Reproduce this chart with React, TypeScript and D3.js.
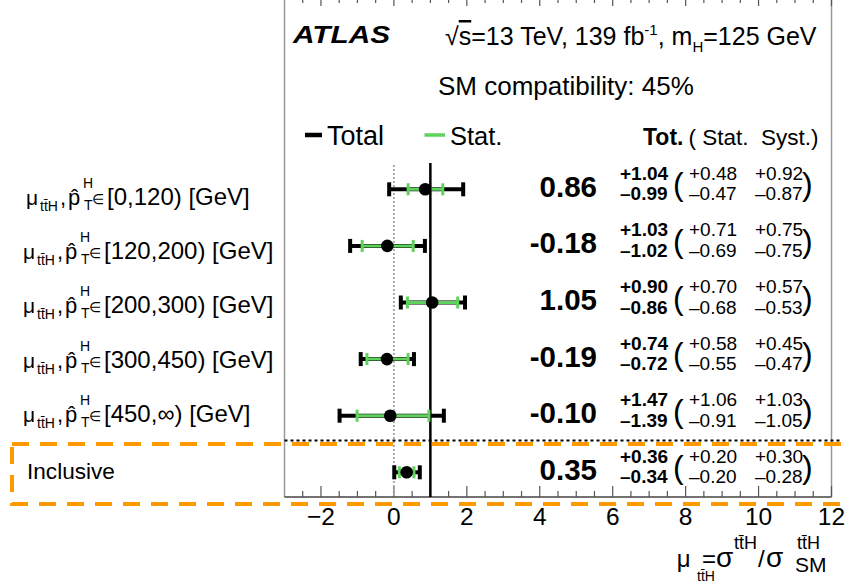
import React from "react";
import * as d3 from "d3";

const categories = ["[0,120) [GeV]", "[120,200) [GeV]", "[200,300) [GeV]", "[300,450) [GeV]", "[450,∞) [GeV]", "Inclusive"];
const mu = [0.86, -0.18, 1.05, -0.19, -0.1, 0.35];
const totUp = [1.04, 1.03, 0.9, 0.74, 1.47, 0.36];
const totDn = [0.99, 1.02, 0.86, 0.72, 1.39, 0.34];
const statUp = [0.48, 0.71, 0.7, 0.58, 1.06, 0.2];
const statDn = [0.47, 0.69, 0.68, 0.55, 0.91, 0.2];
const systUp = [0.92, 0.75, 0.57, 0.45, 1.03, 0.3];
const systDn = [0.87, 0.75, 0.53, 0.47, 1.05, 0.28];
const xTicks = [-2, 0, 2, 4, 6, 8, 10, 12];

const FONT = "'Liberation Sans', Arial, Helvetica, sans-serif";
const GREEN = "#5fd25c";
const ORANGE = "#ff9900";

const TTH = "tt\u0304H";

export default function App() {
  const x = d3.scaleLinear().domain([-3, 12]).range([284.5, 831.5]);
  const y = d3.scaleLinear().domain([0, 5]).range([189.3, 472.3]);
  const yLab = d3.scaleLinear().domain([0, 4]).range([205, 421.7]);
  const frameTop = -3;
  const frameBottom = 497;
  const minorTicks = d3.range(-3, 12.001, 0.5).filter((v) => !xTicks.includes(v) && v > -3 && v < 12);
  const fmt = (v: number) => v.toFixed(2);

  return (
    <svg
      width={850}
      height={585}
      style={{ position: "fixed", left: 0, top: 0, background: "#fff" }}
      fontFamily={FONT}
    >
      <rect x={0} y={0} width={850} height={585} fill="#fff" />
      {/* frame */}
      <line x1={x(-3)} x2={x(-3)} y1={frameTop} y2={frameBottom} stroke="#999" strokeWidth={1.5} />
      <line x1={x(12)} x2={x(12)} y1={frameTop} y2={frameBottom} stroke="#999" strokeWidth={1.5} />
      <line x1={x(-3)} x2={x(12)} y1={frameBottom} y2={frameBottom} stroke="#444" strokeWidth={1.5} />
      {/* ticks */}
      {xTicks.map((t) => (
        <g key={"mt" + t}>
          <line x1={x(t)} x2={x(t)} y1={frameBottom} y2={frameBottom - 11} stroke="#555" strokeWidth={1.2} />
          <line x1={x(t)} x2={x(t)} y1={frameTop} y2={frameTop + 9} stroke="#555" strokeWidth={1.2} />
          <text x={x(t)} y={525} fontSize={24.5} textAnchor="middle" fill="#000">
            {t < 0 ? "\u2212" + Math.abs(t) : String(t)}
          </text>
        </g>
      ))}
      {minorTicks.map((t) => (
        <g key={"nt" + t}>
          <line x1={x(t)} x2={x(t)} y1={frameBottom} y2={frameBottom - 6} stroke="#555" strokeWidth={1.2} />
          <line x1={x(t)} x2={x(t)} y1={frameTop} y2={frameTop + 6} stroke="#555" strokeWidth={1.2} />
        </g>
      ))}

      {/* reference lines */}
      <line x1={x(0)} x2={x(0)} y1={165} y2={frameBottom} stroke="#aaa" strokeWidth={2} strokeDasharray="2,2" />
      <line x1={x(1)} x2={x(1)} y1={163} y2={frameBottom} stroke="#000" strokeWidth={2.5} />
      <line x1={x(-3)} x2={840} y1={440.5} y2={440.5} stroke="#000" strokeWidth={2.2} strokeDasharray="3,3" />

      {/* error bars */}
      {mu.map((m, i) => {
        const cy = y(i);
        const tl = x(m - totDn[i]);
        const th = x(m + totUp[i]);
        const sl = x(m - statDn[i]);
        const sh = x(m + statUp[i]);
        return (
          <g key={"eb" + i}>
            <line x1={tl} x2={th} y1={cy} y2={cy} stroke="#000" strokeWidth={4} />
            <rect x={tl - 2} y={cy - 7} width={4} height={14} fill="#000" />
            <rect x={th - 2} y={cy - 7} width={4} height={14} fill="#000" />
            <line x1={sl} x2={sh} y1={cy} y2={cy} stroke={GREEN} strokeWidth={3} />
            <rect x={sl - 1.5} y={cy - 6} width={3} height={12} fill={GREEN} />
            <rect x={sh - 1.5} y={cy - 6} width={3} height={12} fill={GREEN} />
            <circle cx={x(m)} cy={cy} r={6.3} fill="#000" />
          </g>
        );
      })}

      {/* numbers */}
      {mu.map((m, i) => {
        const cy = y(i);
        return (
          <g key={"num" + i} fill="#000">
            <text x={597} y={cy + 7.5} fontSize={29.5} fontWeight="bold" textAnchor="end">
              {fmt(m)}
            </text>
            <text x={620} y={cy - 9.5} fontSize={19} fontWeight="bold">
              {"+" + fmt(totUp[i])}
            </text>
            <text x={620} y={cy + 11} fontSize={19} fontWeight="bold">
              {"\u2013" + fmt(totDn[i])}
            </text>
            <text x={673} y={cy + 6} fontSize={32} fontWeight={300}>
              (
            </text>
            <text x={689} y={cy - 9.5} fontSize={19}>
              {"+" + fmt(statUp[i])}
            </text>
            <text x={689} y={cy + 11} fontSize={19}>
              {"\u2013" + fmt(statDn[i])}
            </text>
            <text x={755} y={cy - 9.5} fontSize={19}>
              {"+" + fmt(systUp[i])}
            </text>
            <text x={755} y={cy + 11} fontSize={19}>
              {"\u2013" + fmt(systDn[i])}
            </text>
            <text x={802} y={cy + 6} fontSize={32} fontWeight={300}>
              )
            </text>
          </g>
        );
      })}

      {/* row labels */}
      {categories.slice(0, 5).map((c, i) => {
        const b = yLab(i);
        const x0 = i === 0 ? 26 : 23;
        return (
          <text key={"lab" + i} y={b} fill="#000" fontSize={22}>
            <tspan x={x0} y={b} fontSize={21}>μ</tspan>
            <tspan x={x0 + 14} y={b + 6} fontSize={14}>{TTH}</tspan>
            <tspan x={x0 + 34} y={b}>,</tspan>
            <tspan x={x0 + 42} y={b}>{"p\u0302"}</tspan>
            <tspan x={x0 + 57} y={b - 17} fontSize={14}>H</tspan>
            <tspan x={x0 + 58} y={b + 5} fontSize={14}>T</tspan>
            <tspan x={x0 + 66} y={b - 1} fontSize={14}>∈</tspan>
            <tspan x={x0 + 81} y={b} fontSize={24}>{c}</tspan>
          </text>
        );
      })}
      <text x={27} y={479.3} fontSize={22.6} fill="#000">
        {categories[5]}
      </text>

      {/* header */}
      <text
        x={293}
        y={43}
        fontSize={24}
        fontWeight="bold"
        fontStyle="italic"
        textLength={97}
        lengthAdjust="spacingAndGlyphs"
      >
        ATLAS
      </text>
      <text x={445} y={45} fontSize={25} fill="#000">
        √<tspan textDecoration="overline">s</tspan>=13 TeV, 139 fb
        <tspan dy={-10} fontSize={15}>-1</tspan>
        <tspan dy={10}>, m</tspan>
        <tspan dy={7} fontSize={15}>H</tspan>
        <tspan dy={-7}>=125 GeV</tspan>
      </text>
      <text x={438} y={95} fontSize={26} fill="#000">
        SM compatibility: 45%
      </text>

      {/* legend */}
      <line x1={305} x2={322} y1={135} y2={135} stroke="#000" strokeWidth={4.5} />
      <text x={327} y={145} fontSize={27}>Total</text>
      <line x1={424.5} x2={445} y1={135} y2={135} stroke={GREEN} strokeWidth={3.5} />
      <text x={450} y={145} fontSize={25.5}>Stat.</text>
      <text x={643} y={145} fontSize={23} fontWeight="bold">Tot.</text>
      <text x={688.5} y={145} fontSize={22.5} style={{ whiteSpace: "pre" }}>
        {"( Stat.  Syst.)"}
      </text>

      {/* axis title */}
      <text fill="#000" fontSize={24}>
        <tspan x={676.7} y={566.7}>μ</tspan>
        <tspan x={697} y={580.5} fontSize={14}>{TTH}</tspan>
        <tspan x={702} y={566.7}>=</tspan>
        <tspan x={716} y={566.7} fontSize={28}>σ</tspan>
        <tspan x={734} y={549} fontSize={18}>{TTH}</tspan>
        <tspan x={758} y={566.7}>/</tspan>
        <tspan x={766} y={566.7} fontSize={28}>σ</tspan>
        <tspan x={797} y={549} fontSize={18}>{TTH}</tspan>
        <tspan x={795} y={572} fontSize={21}>SM</tspan>
      </text>

      {/* orange highlight box */}
      <rect
        x={12}
        y={444}
        width={860}
        height={60}
        fill="none"
        stroke={ORANGE}
        strokeWidth={4}
        strokeDasharray="17,11"
      />
    </svg>
  );
}
